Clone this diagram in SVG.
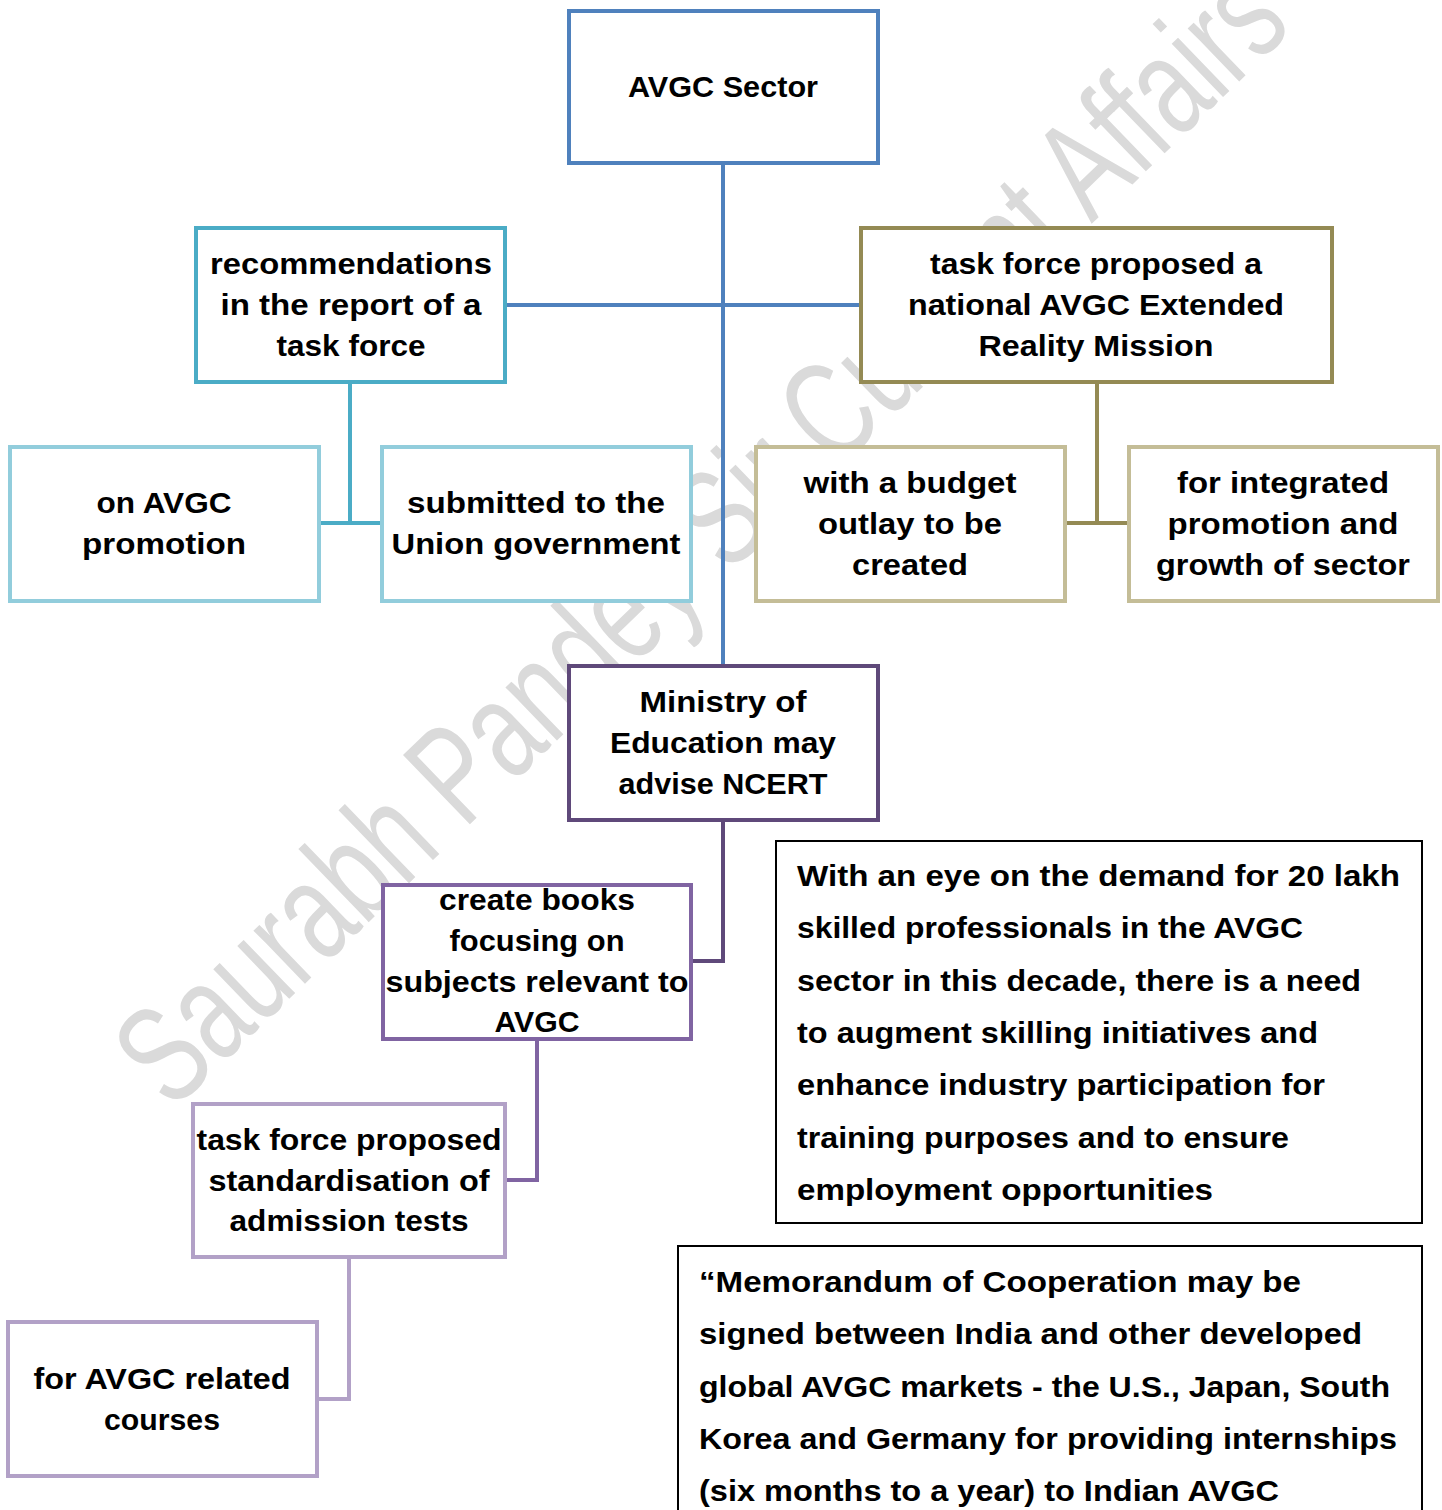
<svg xmlns="http://www.w3.org/2000/svg" width="1442" height="1510" viewBox="0 0 1442 1510">
<style>
  .node rect { fill: #ffffff; stroke-width: 4; }
  .t { font-family: "Liberation Sans", Arial, sans-serif; font-weight: bold; font-size: 30px; fill: #000; text-anchor: middle; }
  .p { font-family: "Liberation Sans", Arial, sans-serif; font-weight: bold; font-size: 30px; fill: #000; }
  .conn path { fill: none; stroke-width: 4; }
  .wm { font-family: "Liberation Sans", Arial, sans-serif; font-size: 140px; fill: #dadada; }
</style>
<rect x="0" y="0" width="1442" height="1510" fill="#ffffff"/>
<g id="watermark">
  <text class="wm" transform="translate(172,1112) rotate(-44)" textLength="1560" lengthAdjust="spacingAndGlyphs">Saurabh Pandey Sir Current Affairs</text>
</g>
<g id="connectors" class="conn">
  <path d="M723,163 V666 M505,305 H861" stroke="#4F81BD"/>
  <path d="M350,382 V523 M319,523 H382" stroke="#4BACC6"/>
  <path d="M1097,382 V523 M1065,523 H1129" stroke="#948A54"/>
  <path d="M723,820 V961 H691" stroke="#5F497A"/>
  <path d="M537,1039 V1180 H505" stroke="#8064A2"/>
  <path d="M349,1257 V1399 H317" stroke="#B2A1C7"/>
</g>
<g id="n1" class="node">
  <rect x="569" y="11" width="309" height="152" stroke="#4F81BD"/>
  <text class="t" x="723" y="97" textLength="190" lengthAdjust="spacingAndGlyphs">AVGC Sector</text>
</g>
<g id="n2" class="node">
  <rect x="196" y="228" width="309" height="154" stroke="#4BACC6"/>
  <text class="t" x="351" y="274" textLength="282" lengthAdjust="spacingAndGlyphs">recommendations</text>
  <text class="t" x="351" y="315" textLength="261" lengthAdjust="spacingAndGlyphs">in the report of a</text>
  <text class="t" x="351" y="356" textLength="149" lengthAdjust="spacingAndGlyphs">task force</text>
</g>
<g id="n3" class="node">
  <rect x="861" y="228" width="471" height="154" stroke="#948A54"/>
  <text class="t" x="1096" y="274" textLength="332" lengthAdjust="spacingAndGlyphs">task force proposed a</text>
  <text class="t" x="1096" y="315" textLength="376" lengthAdjust="spacingAndGlyphs">national AVGC Extended</text>
  <text class="t" x="1096" y="356" textLength="235" lengthAdjust="spacingAndGlyphs">Reality Mission</text>
</g>
<g id="n4" class="node">
  <rect x="10" y="447" width="309" height="154" stroke="#92CDDC"/>
  <text class="t" x="164" y="513" textLength="135" lengthAdjust="spacingAndGlyphs">on AVGC</text>
  <text class="t" x="164" y="554" textLength="164" lengthAdjust="spacingAndGlyphs">promotion</text>
</g>
<g id="n5" class="node">
  <rect x="382" y="447" width="309" height="154" stroke="#92CDDC"/>
  <text class="t" x="536" y="513" textLength="258" lengthAdjust="spacingAndGlyphs">submitted to the</text>
  <text class="t" x="536" y="554" textLength="289" lengthAdjust="spacingAndGlyphs">Union government</text>
</g>
<g id="n6" class="node">
  <rect x="756" y="447" width="309" height="154" stroke="#C4BD97"/>
  <text class="t" x="910" y="493" textLength="213" lengthAdjust="spacingAndGlyphs">with a budget</text>
  <text class="t" x="910" y="534" textLength="184" lengthAdjust="spacingAndGlyphs">outlay to be</text>
  <text class="t" x="910" y="575" textLength="116" lengthAdjust="spacingAndGlyphs">created</text>
</g>
<g id="n7" class="node">
  <rect x="1129" y="447" width="309" height="154" stroke="#C4BD97"/>
  <text class="t" x="1283" y="493" textLength="212" lengthAdjust="spacingAndGlyphs">for integrated</text>
  <text class="t" x="1283" y="534" textLength="231" lengthAdjust="spacingAndGlyphs">promotion and</text>
  <text class="t" x="1283" y="575" textLength="254" lengthAdjust="spacingAndGlyphs">growth of sector</text>
</g>
<g id="n8" class="node">
  <rect x="569" y="666" width="309" height="154" stroke="#5F497A"/>
  <text class="t" x="723" y="712" textLength="167" lengthAdjust="spacingAndGlyphs">Ministry of</text>
  <text class="t" x="723" y="753" textLength="226" lengthAdjust="spacingAndGlyphs">Education may</text>
  <text class="t" x="723" y="794" textLength="209" lengthAdjust="spacingAndGlyphs">advise NCERT</text>
</g>
<g id="n9" class="node">
  <rect x="383" y="885" width="308" height="154" stroke="#8064A2"/>
  <text class="t" x="537" y="910" textLength="196" lengthAdjust="spacingAndGlyphs">create books</text>
  <text class="t" x="537" y="951" textLength="175" lengthAdjust="spacingAndGlyphs">focusing on</text>
  <text class="t" x="537" y="992" textLength="303" lengthAdjust="spacingAndGlyphs">subjects relevant to</text>
  <text class="t" x="537" y="1032" textLength="85" lengthAdjust="spacingAndGlyphs">AVGC</text>
</g>
<g id="n10" class="node">
  <rect x="193" y="1104" width="312" height="153" stroke="#B2A1C7"/>
  <text class="t" x="349" y="1150" textLength="305" lengthAdjust="spacingAndGlyphs">task force proposed</text>
  <text class="t" x="349" y="1191" textLength="281" lengthAdjust="spacingAndGlyphs">standardisation of</text>
  <text class="t" x="349" y="1231" textLength="239" lengthAdjust="spacingAndGlyphs">admission tests</text>
</g>
<g id="n11" class="node">
  <rect x="8" y="1322" width="309" height="154" stroke="#B2A1C7"/>
  <text class="t" x="162" y="1389" textLength="257" lengthAdjust="spacingAndGlyphs">for AVGC related</text>
  <text class="t" x="162" y="1430" textLength="116" lengthAdjust="spacingAndGlyphs">courses</text>
</g>
<g id="note1">
  <rect x="776" y="841" width="646" height="382" fill="#ffffff" stroke="#000000" stroke-width="2"/>
  <text class="p" x="797" y="886" textLength="603" lengthAdjust="spacingAndGlyphs">With an eye on the demand for 20 lakh</text>
  <text class="p" x="797" y="938" textLength="506" lengthAdjust="spacingAndGlyphs">skilled professionals in the AVGC</text>
  <text class="p" x="797" y="991" textLength="564" lengthAdjust="spacingAndGlyphs">sector in this decade, there is a need</text>
  <text class="p" x="797" y="1043" textLength="521" lengthAdjust="spacingAndGlyphs">to augment skilling initiatives and</text>
  <text class="p" x="797" y="1095" textLength="528" lengthAdjust="spacingAndGlyphs">enhance industry participation for</text>
  <text class="p" x="797" y="1148" textLength="492" lengthAdjust="spacingAndGlyphs">training purposes and to ensure</text>
  <text class="p" x="797" y="1200" textLength="416" lengthAdjust="spacingAndGlyphs">employment opportunities</text>
</g>
<g id="note2">
  <rect x="678" y="1246" width="744" height="300" fill="#ffffff" stroke="#000000" stroke-width="2"/>
  <text class="p" x="699" y="1292" textLength="602" lengthAdjust="spacingAndGlyphs">“Memorandum of Cooperation may be</text>
  <text class="p" x="699" y="1344" textLength="663" lengthAdjust="spacingAndGlyphs">signed between India and other developed</text>
  <text class="p" x="699" y="1397" textLength="691" lengthAdjust="spacingAndGlyphs">global AVGC markets - the U.S., Japan, South</text>
  <text class="p" x="699" y="1449" textLength="698" lengthAdjust="spacingAndGlyphs">Korea and Germany for providing internships</text>
  <text class="p" x="699" y="1501" textLength="580" lengthAdjust="spacingAndGlyphs">(six months to a year) to Indian AVGC</text>
</g>
</svg>
